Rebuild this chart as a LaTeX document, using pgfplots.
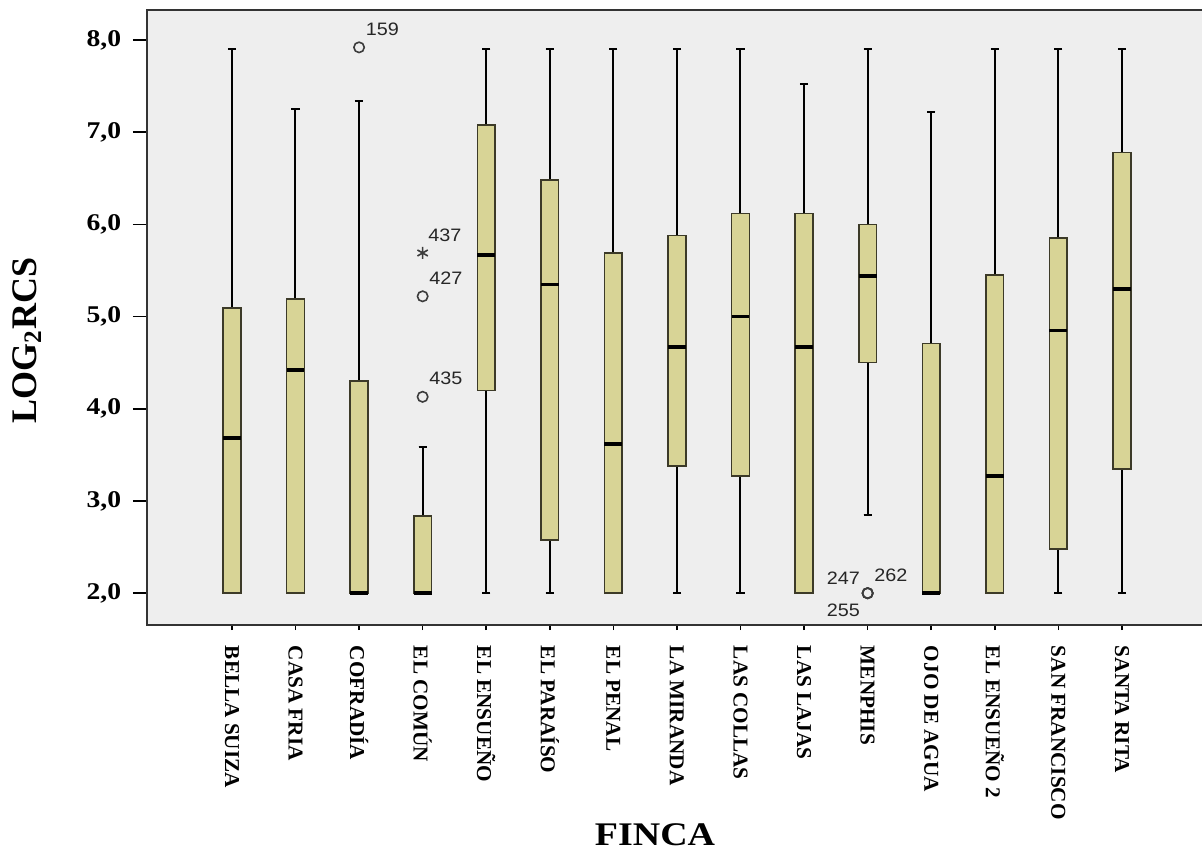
\documentclass[border=0pt]{standalone}
\usepackage{pgfplots}
\pgfplotsset{compat=1.18}
\usepgfplotslibrary{statistics}
\usepackage{fontspec}
\setmainfont{Liberation Serif}
\newfontfamily\widefont[FakeStretch=1.15]{Liberation Serif}
\newfontfamily\numfont[FakeStretch=1.1]{Liberation Sans}
\definecolor{boxfill}{RGB}{216,212,150}
\definecolor{boxedge}{RGB}{60,58,40}
\definecolor{panel}{RGB}{238,238,238}
\definecolor{outl}{RGB}{60,60,60}

% one box per farm: position, lower whisker, Q1, median, Q3, upper whisker
\newcommand{\finca}[6]{%
  \addplot[fincabox, boxplot prepared={draw position=#1,
    lower whisker=#2, lower quartile=#3, median=#4,
    upper quartile=#5, upper whisker=#6}] coordinates {};}

\begin{document}
\begin{tikzpicture}
\begin{axis}[
  at={(0,0)}, anchor=south west,
  scale only axis, width=527.5pt, height=307.5pt,
  xmin=-1.336, xmax=15.26, ymin=1.655, ymax=8.325,
  axis line style={draw=none},
  axis background/.style={fill=panel},
  clip=false,
  tick align=outside,
  xtick pos=bottom, ytick pos=left,
  tick style={black, line width=0.8pt},
  xtick={0,...,14},
  xticklabels={BELLA SUIZA, CASA FRIA, COFRADÍA, EL COMÚN, EL ENSUEÑO,
    EL PARAÍSO, EL PENAL, LA MIRANDA, LAS COLLAS, LAS LAJAS, MENPHIS,
    OJO DE AGUA, EL ENSUEÑO 2, SAN FRANCISCO, SANTA RITA},
  xtick style={/pgfplots/major tick length=2.5pt},
  ytick style={/pgfplots/major tick length=7pt},
  x tick label style={rotate=-90, anchor=west, inner sep=0pt,
    font=\bfseries\fontsize{10.6}{12}\selectfont},
  xticklabel shift=6pt,
  ytick={2,3,4,5,6,7,8},
  y tick label style={/pgf/number format/.cd, fixed, fixed zerofill,
    precision=1, use comma, assume math mode=true, /tikz/.cd,
    font=\widefont\bfseries\fontsize{12}{14}\selectfont, inner sep=0pt},
  yticklabel shift=8.5pt,
  xlabel={FINCA},
  xlabel style={at={(axis description cs:0.4815,0)}, anchor=base,
    yshift=-110pt, font=\widefont\bfseries\fontsize{16.5}{18}\selectfont},
  ylabel={LOG\textsubscript{2}RCS},
  ylabel style={at={(axis description cs:-0.1140,0.463)}, anchor=center,
    font=\bfseries\fontsize{18}{20}\selectfont},
  fincabox/.style={draw=boxedge, fill=boxfill, line width=0.8pt,
    boxplot/draw direction=y,
    boxplot/box extend=0.28, boxplot/whisker extend=0.13,
    boxplot/every whisker/.style={black, line width=1pt},
    boxplot/every median/.style={black, line width=1.8pt}},
  lab/.style={nodes near coords, point meta=explicit symbolic,
    every node near coord/.style={inner sep=0pt, text=black!85,
      font=\numfont\fontsize{9}{10}\selectfont, #1}},
]
% frame on three sides
\draw[black!80, line width=1pt] (rel axis cs:1,1) -- (rel axis cs:0,1)
  -- (rel axis cs:0,0) -- (rel axis cs:1,0);

\finca{0}{2.0}{2.0}{3.68}{5.09}{7.90}
\finca{1}{2.0}{2.0}{4.42}{5.19}{7.25}
\finca{2}{2.0}{2.0}{2.0}{4.30}{7.34}
\finca{3}{2.0}{2.0}{2.0}{2.84}{3.59}
\finca{4}{2.0}{4.20}{5.67}{7.08}{7.90}
\finca{5}{2.0}{2.58}{5.35}{6.48}{7.90}
\finca{6}{2.0}{2.0}{3.62}{5.69}{7.90}
\finca{7}{2.0}{3.38}{4.67}{5.88}{7.90}
\finca{8}{2.0}{3.27}{5.00}{6.12}{7.90}
\finca{9}{2.0}{2.0}{4.67}{6.12}{7.52}
\finca{10}{2.85}{4.50}{5.44}{6.00}{7.90}
\finca{11}{2.0}{2.0}{2.0}{4.71}{7.22}
\finca{12}{2.0}{2.0}{3.27}{5.45}{7.90}
\finca{13}{2.0}{2.48}{4.85}{5.85}{7.90}
\finca{14}{2.0}{3.35}{5.30}{6.78}{7.90}

% outliers and extreme value with case numbers
\addplot[only marks, mark=o, mark size=2.6pt, outl, line width=0.8pt,
  lab={anchor=south west, xshift=3pt, yshift=5.5pt}]
  table[meta=id] {
x y id
2 7.92 159
3 5.22 427
3 4.13 435
10 2.0 262
};
\addplot[only marks, mark=asterisk, mark size=3pt, outl, line width=0.8pt,
  lab={anchor=south west, xshift=2.5pt, yshift=5pt}]
  table[meta=id] {
x y id
3 5.69 437
};
\addplot[only marks, mark=o, mark size=2.6pt, outl, line width=0.8pt,
  lab={anchor=south east, xshift=-3.5pt, yshift=4pt}]
  table[meta=id] {
x y id
10 2.0 247
};
\addplot[only marks, mark=o, mark size=2.6pt, outl, line width=0.8pt,
  lab={anchor=north east, xshift=-3.5pt, yshift=-5pt}]
  table[meta=id] {
x y id
10 2.0 255
};
\end{axis}
\pgfresetboundingbox
\path (-73.5pt,-114pt) rectangle (527.5pt,312.5pt);
\end{tikzpicture}
\end{document}
